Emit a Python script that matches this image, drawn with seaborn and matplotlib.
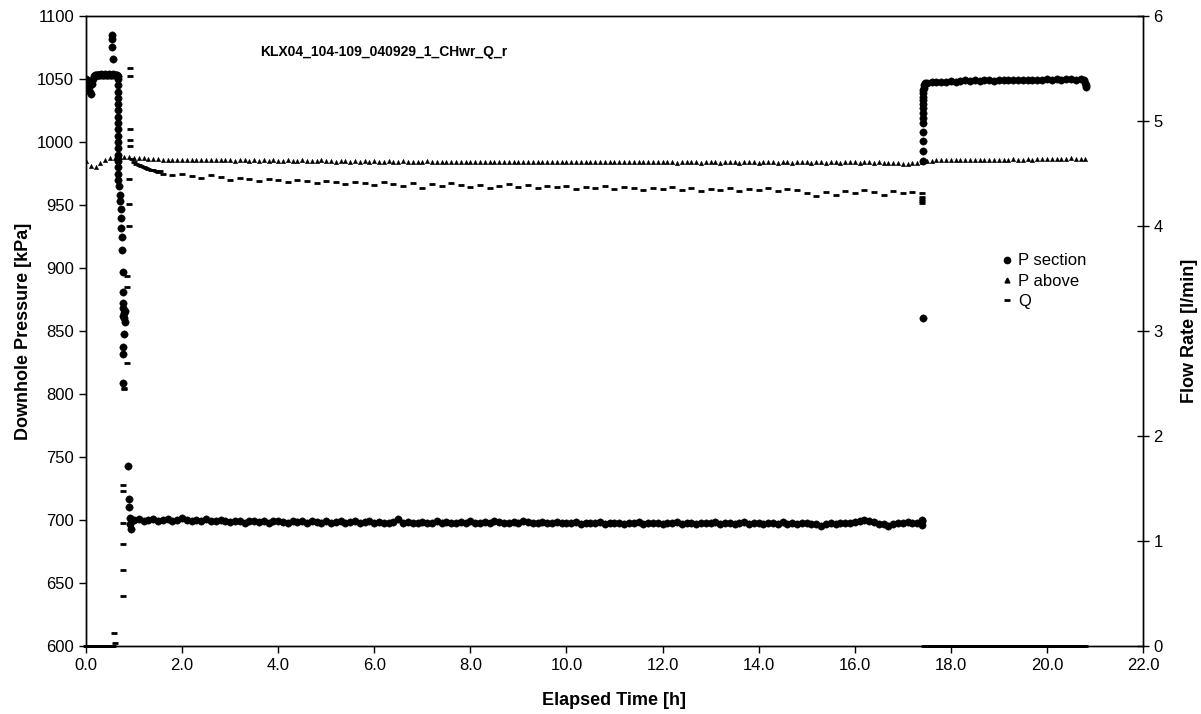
import numpy as np
import pandas as pd
import matplotlib
matplotlib.use("Agg")
import matplotlib.pyplot as plt
from matplotlib.lines import Line2D
import seaborn as sns

# ---------------- data ----------------
title = "KLX04_104-109_040929_1_CHwr_Q_r"

# P section [kPa]
ps_pre_t = [0.00, 0.02, 0.04, 0.06, 0.08, 0.10, 0.12, 0.14, 0.16, 0.18, 0.20, 0.22, 0.24,
            0.26, 0.28, 0.30, 0.32, 0.34, 0.36, 0.38, 0.40, 0.42, 0.44, 0.46, 0.48, 0.50,
            0.52, 0.54, 0.56, 0.58, 0.60, 0.62, 0.64, 0.66]
ps_pre_v = [1050, 1049, 1048, 1044, 1040, 1038, 1046, 1050, 1052, 1053, 1053, 1053.5, 1053,
            1053.5, 1053, 1053.5, 1054, 1053.5, 1053, 1053.5, 1054, 1053.5, 1053, 1053.5, 1054, 1053.5,
            1053, 1053.5, 1054, 1053.5, 1053, 1053.5, 1053, 1052]
ps_spike_t = [0.54, 0.55, 0.54, 0.56]
ps_spike_v = [1085, 1082, 1075, 1066]
ps_drop_t = [0.67, 0.67, 0.67, 0.67, 0.67, 0.67, 0.67, 0.67, 0.67, 0.67, 0.67, 0.67, 0.67,
             0.67, 0.67, 0.67, 0.67, 0.68, 0.70, 0.71, 0.72, 0.72, 0.73, 0.74, 0.75, 0.76,
             0.76, 0.77, 0.78, 0.79, 0.80, 0.81, 0.82, 0.78, 0.79, 0.78, 0.77, 0.78, 0.87,
             0.89, 0.90, 0.91, 0.92, 0.93]
ps_drop_v = [1050, 1045, 1040, 1035, 1030, 1025, 1020, 1015, 1010, 1005, 1000, 995, 990,
             985, 980, 975, 970, 965, 958, 953, 947, 940, 932, 925, 914, 897,
             881, 872, 868, 864, 860, 857, 866, 862, 848, 837, 832, 809, 743,
             717, 710, 702, 697, 693]
ps_flat_v = [700, 701, 699, 700, 700.5, 699.5, 700, 701, 699, 700,
             701.5, 700, 699.5, 700, 699, 700.5, 699.5, 699, 700, 699,
             698.5, 699.5, 699, 698, 699, 699.5, 698.5, 699, 698, 699,
             699.5, 698.5, 698, 699, 698.5, 699, 698, 699, 698.5, 698,
             699, 698, 698.5, 699, 697.5, 698.5, 699, 698, 698.5, 699,
             698, 698.5, 697.5, 698, 698.5, 700.5, 698, 698.5, 697.5, 698,
             698.5, 697.5, 698, 699, 698, 698.5, 697.5, 698, 698.5, 698,
             699, 698, 697.5, 698.5, 698, 699, 698.5, 698, 697.5, 698.5,
             698, 699, 698.5, 697.5, 698, 698.5, 697.5, 698, 698.5, 697.5,
             698, 697.5, 698.5, 697, 698, 697.5, 698, 698.5, 697, 697.5,
             698, 697.5, 697, 698, 697.5, 698.5, 697, 697.5, 698, 697.5,
             697, 698, 697.5, 698.5, 697, 697.5, 698, 697, 697.5, 698,
             697.5, 698.5, 697, 697.5, 698, 697, 698, 698.5, 697, 697.5,
             698, 697, 697.5, 698, 697, 698.5, 697, 697.5, 697, 698,
             697.5, 697, 696.5, 695.5, 696.5, 697.5, 697, 698, 697.5, 698,
             698.5, 699, 700, 699.5, 698.5, 697, 696.5, 695.5, 696.5, 697.5,
             698, 698.5, 697.5, 698]
ps_jump_t = [17.40, 17.40, 17.40, 17.42, 17.43, 17.43, 17.43, 17.43, 17.43, 17.43, 17.43,
             17.43, 17.43, 17.43, 17.43, 17.43, 17.43, 17.44, 17.45, 17.47]
ps_jump_v = [696, 699, 700, 860, 985, 993, 1001, 1008, 1015, 1019, 1023,
             1027, 1030, 1033, 1036, 1039, 1041, 1043, 1045, 1046.5]
ps_rec_v = [1047, 1047.5, 1048, 1047.5, 1048,
            1048.5, 1048, 1048.5, 1049, 1048.5, 1049, 1048.5, 1049, 1049, 1048.5,
            1049, 1049.5, 1049, 1049, 1049.5, 1049, 1049.5, 1049.5, 1049, 1049.5,
            1050, 1049.5, 1050, 1049.5, 1050, 1050, 1049.5, 1050]
ps_end_t = [20.78, 20.80, 20.81, 20.81]
ps_end_v = [1049, 1047, 1045, 1043.5]

# P above [kPa], sampled every 0.1 h from 0.0 to 20.8 h
pa_v = [985, 981, 980.5, 983, 985.5, 987, 987.5, 988, 988, 988,
        987.5, 987, 987, 986.5, 986.5, 986.5, 986, 986, 986, 986,
        986, 985.5, 986, 985.5, 986, 985.5, 985.5, 986, 985.5, 985.5,
        985.5, 985, 985.5, 985.5, 985, 985.5, 985, 985.5, 985, 985.5,
        985, 985, 985.5, 985, 985, 985.5, 985, 985, 985, 985.5,
        985, 985, 984.5, 985, 985, 984.5, 985, 984.5, 985, 984.5,
        985, 984.5, 984.5, 985, 984.5, 984.5, 985, 984.5, 984.5, 984.5,
        984.5, 985, 984.5, 984.5, 984.5, 984, 984.5, 984.5, 984, 984.5,
        984.5, 984, 984.5, 984.5, 984, 984.5, 984, 984.5, 984, 984.5,
        984, 984.5, 984, 984, 984.5, 984, 984, 984.5, 984, 984,
        984.5, 984, 984, 984, 984.5, 984, 984, 984, 984.5, 984,
        984, 984, 984.5, 984, 984, 984, 984, 984.5, 984, 984,
        984, 984, 984, 983.5, 984, 984, 984, 984, 983.5, 984,
        984, 984, 983.5, 984, 984, 984, 983.5, 984, 984, 984,
        983.5, 984, 984, 984, 983.5, 984, 984, 983.5, 984, 984,
        984, 983.5, 984, 984, 983.5, 984, 984, 983.5, 984, 984,
        984, 983.5, 984, 984, 983.5, 984, 983.5, 983.5, 983, 983,
        982.5, 982.5, 983, 983.5, 984.5, 985, 985, 985.5, 985.5, 985.5,
        985.5, 985.5, 986, 985.5, 986, 986, 985.5, 986, 986, 986,
        986, 986, 986, 986.5, 986, 986, 986.5, 986, 986.5, 986.5,
        986.5, 986.5, 986.5, 986.5, 986.5, 987, 986.5, 986.5, 986.5]

# Q [l/min]
q_tr_t = [0.58, 0.60, 0.77, 0.77, 0.77, 0.77, 0.77, 0.77, 0.80, 0.80, 0.85, 0.85, 0.85,
          0.90, 0.90, 0.90, 0.92, 0.92, 0.92, 0.92, 0.92,
          0.95, 1.00, 1.05, 1.10, 1.15, 1.20, 1.25, 1.30, 1.35, 1.40, 1.45, 1.50, 1.55, 1.60]
q_tr_v = [0.12, 0.03, 0.48, 0.72, 0.97, 1.17, 1.48, 1.53, 2.45, 2.46, 2.70, 3.42, 3.52,
          4.00, 4.21, 4.45, 4.76, 4.82, 4.92, 5.43, 5.50,
          4.64, 4.61, 4.59, 4.58, 4.57, 4.56, 4.55, 4.54, 4.53, 4.53, 4.52, 4.51, 4.52, 4.50]
# every 0.2 h from 1.8 to 17.2 h
q_flat_v = [4.49,
            4.50, 4.48, 4.46, 4.49, 4.47, 4.44, 4.46, 4.45, 4.43, 4.45,
            4.44, 4.42, 4.44, 4.43, 4.41, 4.43, 4.42, 4.40, 4.42, 4.41,
            4.39, 4.42, 4.40, 4.38, 4.41, 4.36, 4.40, 4.38, 4.41, 4.39,
            4.37, 4.39, 4.36, 4.38, 4.40, 4.37, 4.39, 4.36, 4.38, 4.37,
            4.38, 4.35, 4.37, 4.36, 4.38, 4.35, 4.37, 4.36, 4.34, 4.36,
            4.35, 4.37, 4.34, 4.36, 4.33, 4.35, 4.34, 4.36, 4.33, 4.35,
            4.34, 4.36, 4.33, 4.35, 4.34, 4.31, 4.29, 4.32, 4.30, 4.33,
            4.31, 4.34, 4.32, 4.30, 4.33, 4.31, 4.32]
q_end_t = [17.40, 17.40, 17.40, 17.40, 17.40]
q_end_v = [4.31, 4.28, 4.26, 4.24, 4.22]
q_zero_v = 0.0

x_ticks = [0, 2, 4, 6, 8, 10, 12, 14, 16, 18, 20, 22]
y_ticks = [600, 650, 700, 750, 800, 850, 900, 950, 1000, 1050, 1100]
y2_ticks = [0, 1, 2, 3, 4, 5, 6]

# ---------------- assemble ----------------
ps_flat_t = np.round(1.0 + 0.1 * np.arange(len(ps_flat_v)), 2)
ps_rec_t = np.round(17.5 + 0.1 * np.arange(len(ps_rec_v)), 2)
ps = pd.DataFrame({
    "t": np.concatenate([ps_pre_t, ps_spike_t, ps_drop_t, ps_flat_t, ps_jump_t, ps_rec_t, ps_end_t]),
    "p": np.concatenate([ps_pre_v, ps_spike_v, ps_drop_v, ps_flat_v, ps_jump_v, ps_rec_v, ps_end_v]),
})
pa = pd.DataFrame({"t": np.round(0.1 * np.arange(len(pa_v)), 2), "p": pa_v})

q_pre_t = np.round(0.02 * np.arange(29), 2)
q_post_t = np.round(17.45 + 0.05 * np.arange(68), 2)
q_flat_t = np.round(1.8 + 0.2 * np.arange(len(q_flat_v)), 2)
q = pd.DataFrame({
    "t": np.concatenate([q_pre_t, q_tr_t, q_flat_t, q_end_t, q_post_t]),
    "q": np.concatenate([np.full(len(q_pre_t), q_zero_v), q_tr_v, q_flat_v, q_end_v,
                         np.full(len(q_post_t), q_zero_v)]),
})

# ---------------- plot ----------------
sns.set_theme(style="white")
plt.rcParams["font.family"] = ["Liberation Sans", "DejaVu Sans"]
plt.rcParams.update({"text.color": "black", "axes.labelcolor": "black",
                     "xtick.color": "black", "ytick.color": "black",
                     "axes.edgecolor": "black"})

fig = plt.figure(figsize=(12.01, 7.14), dpi=100)
ax = fig.add_axes([0.0716, 0.0952, 0.8801, 0.8824])
ax2 = ax.twinx()

sns.scatterplot(data=ps, x="t", y="p", ax=ax, color="black", marker="o", s=28,
                edgecolor="black", linewidth=0.3, legend=False, zorder=3)
sns.scatterplot(data=pa, x="t", y="p", ax=ax, color="black", marker="^", s=10,
                edgecolor="black", linewidth=0.3, legend=False, zorder=3)
sns.scatterplot(data=q, x="t", y="q", ax=ax2, color="black", marker="_", s=14,
                linewidth=2.0, legend=False, zorder=3, clip_on=False)

ax.set_xlim(0, 22)
ax.set_ylim(600, 1100)
ax2.set_ylim(0, 6)
ax.set_xticks(x_ticks)
ax.set_xticklabels([f"{v:.1f}" for v in x_ticks])
ax.set_yticks(y_ticks)
ax.set_yticklabels([str(v) for v in y_ticks])
ax2.set_yticks(y2_ticks)
ax2.set_yticklabels([str(v) for v in y2_ticks])

for a in (ax, ax2):
    for sp in a.spines.values():
        sp.set_color("black")
        sp.set_linewidth(1.0)
ax.tick_params(axis="both", direction="out", length=5, width=1, colors="black",
               labelsize=12, left=True, bottom=True)
ax2.tick_params(axis="y", direction="inout", length=8, width=1, colors="black",
                labelsize=12, right=True)

ax.set_xlabel("Elapsed Time [h]", fontsize=13, fontweight="bold", labelpad=14)
ax.set_ylabel("Downhole Pressure [kPa]", fontsize=13, fontweight="bold", labelpad=4)
ax2.set_ylabel("Flow Rate [l/min]", fontsize=13, fontweight="bold", labelpad=13)

ax.text(0.282, 0.943, title, transform=ax.transAxes, ha="center", va="center",
        fontsize=10, fontweight="bold")

handles = [
    Line2D([], [], linestyle="none", marker="o", markersize=4.5, color="black"),
    Line2D([], [], linestyle="none", marker="^", markersize=3.5, color="black"),
    Line2D([], [], linestyle="none", marker="_", markersize=4, markeredgewidth=2, color="black"),
]
ax2.legend(handles, ["P section", "P above", "Q"], loc="upper left",
           bbox_to_anchor=(0.852, 0.647), frameon=False, fontsize=12,
           handlelength=0.6, handletextpad=0.4, labelspacing=0.32)

fig.savefig("out.png", dpi=100, facecolor="white")
